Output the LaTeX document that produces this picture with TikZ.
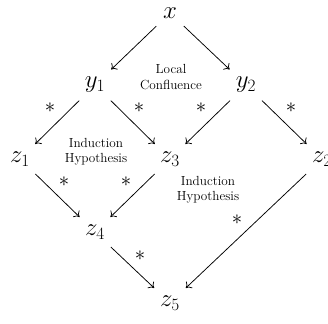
\documentclass[tikz,border=0pt]{standalone}
\usetikzlibrary{arrows.meta}
\begin{document}
\begin{tikzpicture}[x=1pt,y=-1pt,
  obj/.style={inner sep=1pt,outer sep=4pt,font=\fontsize{26}{30}\selectfont},
  lbl/.style={inner sep=0pt,font=\fontsize{21}{24}\selectfont},
  note/.style={inner sep=0pt,align=center,font=\fontsize{13.2}{15.5}\selectfont},
  arr/.style={-{To[length=5pt,width=9pt]},line width=0.75pt,shorten <=4pt,shorten >=4pt}]
\useasboundingbox (0,0) rectangle (328,323);
\node[obj] (x) at (170,13) {$x$};
\node[obj] (y1) at (95,85) {$y_1$};
\node[obj] (y2) at (246,85) {$y_2$};
\node[obj] (z1) at (20,159) {$z_1$};
\node[obj] (z3) at (170,159) {$z_3$};
\node[obj] (z2) at (322,159) {$z_2$};
\node[obj] (z4) at (95,232) {$z_4$};
\node[obj] (z5) at (170,303) {$z_5$};
\draw[arr] (x) -- (y1);
\draw[arr] (x) -- (y2);
\draw[arr] (y1) -- (z1);
\draw[arr] (y1) -- (z3);
\draw[arr] (y2) -- (z3);
\draw[arr] (y2) -- (z2);
\draw[arr] (z1) -- (z4);
\draw[arr] (z3) -- (z4);
\draw[arr] (z4) -- (z5);
\draw[arr] (z2) -- (z5);
\node[lbl] (s1) at (50,108) {$\ast$};
\node[lbl] (s2) at (139,108) {$\ast$};
\node[lbl] (s3) at (201,108) {$\ast$};
\node[lbl] (s4) at (291,108) {$\ast$};
\node[lbl] (s5) at (64,182) {$\ast$};
\node[lbl] (s6) at (126,182) {$\ast$};
\node[lbl] (s7) at (237,220) {$\ast$};
\node[lbl] (s8) at (140,256) {$\ast$};
\node[note] (lc) at (171,77) {Local\\Confluence};
\node[note] (ih1) at (96,152) {Induction\\Hypothesis};
\node[note] (ih2) at (208,190) {Induction\\Hypothesis};
\end{tikzpicture}
\end{document}
